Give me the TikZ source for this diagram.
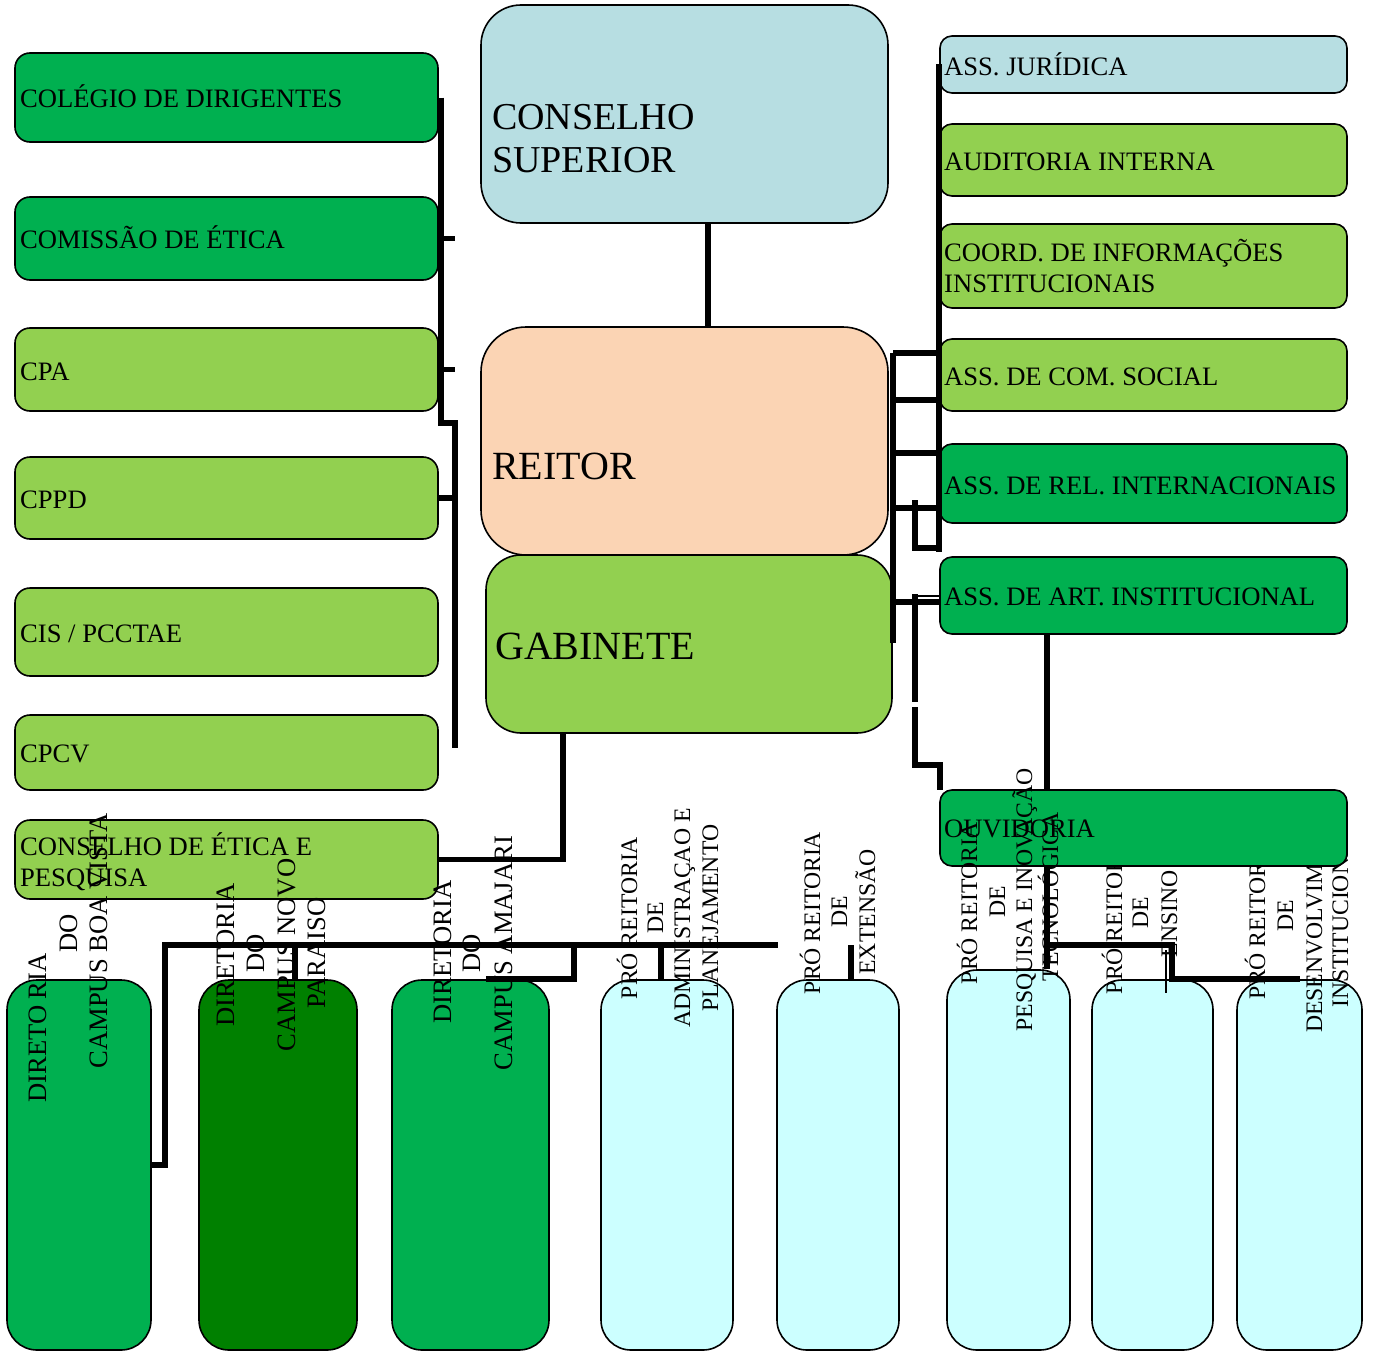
\documentclass[tikz,border=0pt]{standalone}
\usepackage{fontspec}
\setmainfont{Liberation Serif}
\usetikzlibrary{calc}
\definecolor{dkg}{HTML}{00B050}
\definecolor{ltg}{HTML}{92D050}
\definecolor{bgr}{HTML}{B7DEE2}
\definecolor{pch}{HTML}{FBD4B4}
\definecolor{cyn}{HTML}{CCFFFF}
\definecolor{grn}{HTML}{008000}
\begin{document}
\begin{tikzpicture}[x=1pt,y=-1pt,
 box/.style={draw=black, line width=1.6pt, inner sep=0pt},
 lbox/.style={box, rounded corners=15pt, minimum width=423pt},
 rbox/.style={box, rounded corners=12pt, minimum width=407pt},
 cbox/.style={box, rounded corners=40pt},
 bbox/.style={box, rounded corners=30pt, minimum height=370pt},
 txt/.style={inner sep=0pt, font=\fontsize{26.6}{31}\selectfont, anchor=base west},
 big/.style={inner sep=0pt, font=\fontsize{38}{44}\selectfont, anchor=base west},
 bigger/.style={inner sep=0pt, font=\fontsize{40}{46}\selectfont, anchor=base west},
 vt/.style={inner sep=0pt, font=\fontsize{26.6}{31}\selectfont, rotate=90, anchor=base},
 vtp/.style={inner sep=0pt, font=\fontsize{23.7}{28}\selectfont, rotate=90, anchor=base},
 conn/.style={line width=5.5pt, line join=miter},
 thinln/.style={line width=1.5pt}
]
\useasboundingbox (0,0) rectangle (1374,1354);

% ---------- left column ----------
\node[lbox, fill=dkg, minimum height=89pt] (colegio) at (226.5,97.5) {};
\node[lbox, fill=dkg, minimum height=83pt] (comissao) at (226.5,238.5) {};
\node[lbox, fill=ltg, minimum height=83pt] (cpa) at (226.5,369.5) {};
\node[lbox, fill=ltg, minimum height=82pt] (cppd) at (226.5,498) {};
\node[lbox, fill=ltg, minimum height=88pt] (cis) at (226.5,632) {};
\node[lbox, fill=ltg, minimum height=75pt] (cpcv) at (226.5,752.5) {};
\node[lbox, fill=ltg, minimum height=79pt] (cep) at (226.5,859.5) {};
\node[txt] (t-colegio) at (20,107) {COLÉGIO DE DIRIGENTES};
\node[txt] (t-comissao) at (20,248) {COMISSÃO DE ÉTICA};
\node[txt] (t-cpa) at (20,380) {CPA};
\node[txt] (t-cppd) at (20,508) {CPPD};
\node[txt] (t-cis) at (20,642) {CIS / PCCTAE};
\node[txt] (t-cpcv) at (20,762) {CPCV};
\node[txt] (t-cep1) at (20,855) {CONSELHO DE ÉTICA E};
\node[txt] (t-cep2) at (20,886) {PESQUISA};

% ---------- centre ----------
\node[cbox, fill=bgr, minimum width=407pt, minimum height=218pt] (sup) at (684.5,114) {};
\node[cbox, fill=pch, minimum width=407pt, minimum height=228pt, rounded corners=45pt] (reitor) at (684.5,441) {};
\node[cbox, fill=ltg, minimum width=406pt, minimum height=178pt, rounded corners=35pt] (gab) at (689,644) {};
\node[big] (t-sup1) at (492,129) {CONSELHO};
\node[big] (t-sup2) at (492,172) {SUPERIOR};
\node[bigger] (t-reitor) at (492,479) {REITOR};
\node[bigger] (t-gab) at (495,659) {GABINETE};

% ---------- right column ----------
\node[rbox, fill=bgr, minimum height=57pt] (jur) at (1143.5,64.5) {};
\node[rbox, fill=ltg, minimum height=72pt] (aud) at (1143.5,160) {};
\node[rbox, fill=ltg, minimum height=84pt] (coord) at (1143.5,266) {};
\node[rbox, fill=ltg, minimum height=72pt] (com) at (1143.5,375) {};
\node[rbox, fill=dkg, minimum height=79pt] (rel) at (1143.5,483.5) {};
\node[rbox, fill=dkg, minimum height=77pt] (art) at (1143.5,595.5) {};
\node[txt] (t-jur) at (944,75) {ASS. JURÍDICA};
\node[txt] (t-aud) at (944,170) {AUDITORIA INTERNA};
\node[txt] (t-coord1) at (944,261) {COORD. DE INFORMAÇÕES};
\node[txt] (t-coord2) at (944,292) {INSTITUCIONAIS};
\node[txt] (t-com) at (944,385) {ASS. DE COM. SOCIAL};
\node[txt] (t-rel) at (944,494) {ASS. DE REL. INTERNACIONAIS};
\node[txt] (t-art) at (944,605) {ASS. DE ART. INSTITUCIONAL};

% ---------- bottom row ----------
\node[bbox, fill=dkg, minimum width=144pt] (b1) at (79,1165) {};
\node[bbox, fill=grn, minimum width=158pt] (b2) at (278,1165) {};
\node[bbox, fill=dkg, minimum width=157pt] (b3) at (470.5,1165) {};
\node[bbox, fill=cyn, minimum width=132pt] (b4) at (667,1165) {};
\node[bbox, fill=cyn, minimum width=122pt] (b5) at (838,1165) {};
\node[bbox, fill=cyn, minimum width=123pt, minimum height=380pt] (b6) at (1008.5,1160) {};
\node[bbox, fill=cyn, minimum width=121pt] (b7) at (1152.5,1165) {};
\node[bbox, fill=cyn, minimum width=125pt] (b8) at (1299.5,1165) {};

\node[vt] (t-b1a) at (46,1028) {DIRETO RIA};
\node[vt] (t-b1b) at (77,933) {DO};
\node[vt] (t-b1c) at (107,941) {CAMPUS BOA VISTA};
\node[vt] (t-b2a) at (234,955) {DIRETORIA};
\node[vt] (t-b2b) at (264,953) {DO};
\node[vt] (t-b2c) at (295,955) {CAMPUS NOVO};
\node[vt] (t-b2d) at (325,953) {PARAISO};
\node[vt] (t-b3a) at (451,952) {DIRETORIA};
\node[vt] (t-b3b) at (480,953) {DO};
\node[vt] (t-b3c) at (512,953) {CAMPUS AMAJARI};
\node[vtp] (t-b4a) at (637,918) {PRÓ REITORIA};
\node[vtp] (t-b4b) at (663,918) {DE};
\node[vtp] (t-b4c) at (690,918) {ADMINISTRAÇAO E};
\node[vtp] (t-b4d) at (718,918) {PLANEJAMENTO};
\node[vtp] (t-b5a) at (820,913) {PRÓ REITORIA};
\node[vtp] (t-b5b) at (847,912) {DE};
\node[vtp] (t-b5c) at (875,912) {EXTENSÃO};
\node[vtp] (t-b7a) at (1122,913) {PRÓ REITORIA};
\node[vtp] (t-b7b) at (1148,913) {DE};
\node[vtp] (t-b7c) at (1177,914) {ENSINO};
\node[vtp] (t-b8a) at (1265,918) {PRÓ REITORIA};
\node[vtp] (t-b8b) at (1293,916) {DE};
\node[vtp] (t-b8c) at (1322,917) {DESENVOLVIMENTO};
\node[vtp] (t-b8d) at (1348,917) {INSTITUCIONAL};

% ---------- connectors ----------
% left tree
\coordinate (L1) at (441,423);
\coordinate (L2) at (455,423);
\coordinate (L3) at (455,748);
\draw[conn] (L1 |- colegio.east) -- (L1) -- (L2) -- (L3);
\draw[conn] (L1 |- comissao.east) -- (L2 |- comissao.east);
\draw[conn] (L1 |- cpa.east) -- (L2 |- cpa.east);
\draw[conn] (cppd.east) -- (L2 |- cppd.east);
% conselho superior - reitor
\coordinate (S1) at (708,0);
\draw[conn] (S1 |- sup.south) -- (S1 |- reitor.north);
% gabinete - conselho de etica
\coordinate (G1) at (563,0);
\draw[conn] (G1 |- gab.south) -- (G1 |- cep.east) -- (cep.east);
% bottom bus
\coordinate (busL) at (165,945);
\coordinate (busR) at (778,945);
\draw[conn] (b1.east) -| (busL) -- (busR);
\coordinate (X2) at (295,945);
\draw[conn] (X2) -- (X2 |- b2.north);
\coordinate (X3) at (574,945);
\coordinate (X3b) at (486,0);
\draw[conn] (X3) -- (X3 |- b3.north) -- (X3b |- b3.north);
\coordinate (X4) at (661,945);
\draw[conn] (X4) -- (X4 |- b4.north);
\coordinate (X5) at (851,945);
\draw[conn] (X5) -- (X5 |- b5.north);
% right side
\coordinate (R1) at (939,0);
\coordinate (R1b) at (939,552);
\draw[conn] (R1 |- jur.west) -- (R1b);
\coordinate (h1) at (893,353);
\coordinate (h2) at (893,400);
\coordinate (h3) at (893,453);
\coordinate (h4) at (893,508);
\coordinate (h5) at (893,602);
\coordinate (R2b) at (893,643);
\draw[conn] (h1) -- (R2b);
\draw[conn] (h1) -- (h1 -| R1);
\draw[conn] (h2) -- (h2 -| R1);
\draw[conn] (h3) -- (h3 -| R1);
\draw[conn] (h4) -- (h4 -| R1);
\draw[conn] (h5) -- (h5 -| art.west);
\coordinate (k1) at (915,500);
\coordinate (k2) at (915,548);
\draw[conn] (k1) -- (k2) -- (k2 -| R1);
\coordinate (k3) at (915,596);
\draw[thinln] (k3) -- (k3 -| art.west);
\coordinate (k4) at (915,594);
\coordinate (k5) at (915,702);
\coordinate (k6) at (915,707);
\coordinate (k7) at (915,765);
\coordinate (k8) at (940,765);
\coordinate (k9) at (940,790);
\draw[conn] (k4) -- (k5);
\draw[conn] (k6) -- (k7) -- (k8) -- (k9);
\coordinate (m1) at (1047,0);
\coordinate (m0) at (1047,800);
\draw[conn] (m1 |- art.south) -- (m0);

% ouvidoria on top
\node[rbox, fill=dkg, minimum height=76pt] (ouv) at (1143.5,828) {};
\node[txt] (t-ouv) at (944,837) {OUVIDORIA};

\node[vtp] (t-b6a) at (977,903) {PRÓ REITORIA};
\node[vtp] (t-b6b) at (1005,902) {DE};
\node[vtp] (t-b6c) at (1032,900) {PESQUISA E INOVAÇÃO};
\node[vtp] (t-b6d) at (1058,897) {TECNOLÓGICA};

\coordinate (m2) at (1047,945);
\coordinate (m3) at (1172,945);
\coordinate (m4) at (1172,979);
\coordinate (m5) at (1300,979);
\draw[conn] (m1 |- ouv.south) -- (m1 |- b6.north);
\draw[conn] (m2) -- (m3) -- (m4) -- (m5);
\coordinate (m6) at (1166,950);
\coordinate (m7) at (1166,993);
\draw[thinln] (m6) -- (m7);
\end{tikzpicture}
\end{document}
